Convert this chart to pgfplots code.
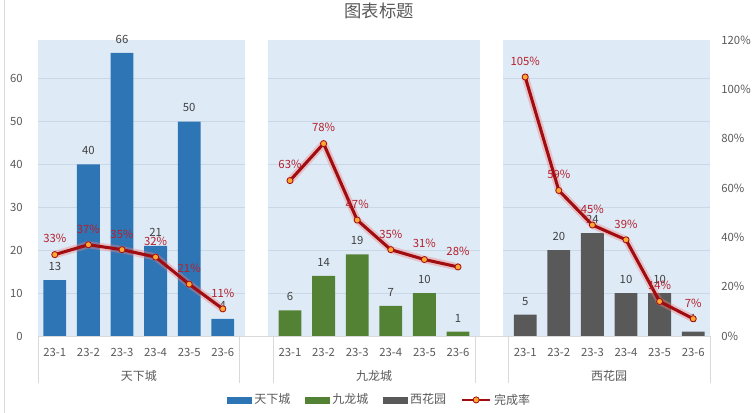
\documentclass[border=0pt]{standalone}
\usepackage{fontspec}
\setmainfont{Noto Sans CJK SC}
\usepackage{pgfplots}
\pgfplotsset{compat=1.18}
\pgfkeys{/pgf/number format/assume math mode=true}
\definecolor{cA}{HTML}{2E75B6}
\definecolor{cB}{HTML}{548235}
\definecolor{cC}{HTML}{595959}
\definecolor{panel}{HTML}{DEEBF7}
\definecolor{gridc}{HTML}{C9D7E6}
\definecolor{lineR}{HTML}{A00C10}
\definecolor{glow}{HTML}{F08080}
\definecolor{mk}{HTML}{FFA733}
\definecolor{lblR}{HTML}{B3202C}
\definecolor{txt}{HTML}{595959}
\definecolor{lbl}{HTML}{404040}
\definecolor{axg}{HTML}{D9D9D9}
\pgfplotsset{
  gl/.style={gridc, line width=0.6pt, forget plot, unbounded coords=jump},
}
\begin{document}
\begin{tikzpicture}
\path[use as bounding box] (-28.5pt,-57.75pt) rectangle (537pt,252pt);
\draw[axg] (-25.5pt,-57.75pt) -- (-25.5pt,252pt);
\node[font=\fontsize{13}{15}\selectfont, text=txt] at (255.75pt,243.75pt) {图表标题};
\begin{axis}[at={(0,0)}, anchor=south west, scale only axis, width=504pt, height=222pt,
  xmin=-0.5, xmax=19.5, ymin=0, ymax=69, clip=false,
  /pgf/number format/assume math mode=true,
  axis x line*=bottom, axis y line*=left,
  x axis line style={draw=axg,-}, y axis line style={draw=none},
  major tick length=0pt,
  xtick={0,1,2,3,4,5,7,8,9,10,11,12,14,15,16,17,18,19},
  xticklabels={23-1,23-2,23-3,23-4,23-5,23-6,23-1,23-2,23-3,23-4,23-5,23-6,23-1,23-2,23-3,23-4,23-5,23-6},
  ytick={0,10,...,60},
  tick label style={font=\fontsize{8.5}{10}\selectfont, text=txt},
  xticklabel style={anchor=center, yshift=-12pt},
  yticklabel style={anchor=east, xshift=-8pt},
  every node near coord/.append style={font=\fontsize{8.5}{10}\selectfont, text=lbl, anchor=south, yshift=3.5pt},
]
% background panels
\addplot[fill=panel, draw=none, forget plot] coordinates {(-0.5,0) (-0.5,69) (5.65,69) (5.65,0)} -- cycle;
\addplot[fill=panel, draw=none, forget plot] coordinates {(6.34,0) (6.34,69) (12.66,69) (12.66,0)} -- cycle;
\addplot[fill=panel, draw=none, forget plot] coordinates {(13.34,0) (13.34,69) (19.5,69) (19.5,0)} -- cycle;
% grid lines on panels
\addplot[gl] coordinates {(-0.5,10)(5.65,10)(6,nan)(6.34,10)(12.66,10)(13,nan)(13.34,10)(19.5,10)};
\addplot[gl] coordinates {(-0.5,20)(5.65,20)(6,nan)(6.34,20)(12.66,20)(13,nan)(13.34,20)(19.5,20)};
\addplot[gl] coordinates {(-0.5,30)(5.65,30)(6,nan)(6.34,30)(12.66,30)(13,nan)(13.34,30)(19.5,30)};
\addplot[gl] coordinates {(-0.5,40)(5.65,40)(6,nan)(6.34,40)(12.66,40)(13,nan)(13.34,40)(19.5,40)};
\addplot[gl] coordinates {(-0.5,50)(5.65,50)(6,nan)(6.34,50)(12.66,50)(13,nan)(13.34,50)(19.5,50)};
\addplot[gl] coordinates {(-0.5,60)(5.65,60)(6,nan)(6.34,60)(12.66,60)(13,nan)(13.34,60)(19.5,60)};
% bars
\addplot[ybar, bar width=0.68, bar shift=0pt, fill=cA, draw=none, nodes near coords] coordinates {(0,13)(1,40)(2,66)(3,21)(4,50)(5,4)};
\addplot[ybar, bar width=0.68, bar shift=0pt, fill=cB, draw=none, nodes near coords] coordinates {(7,6)(8,14)(9,19)(10,7)(11,10)(12,1)};
\addplot[ybar, bar width=0.68, bar shift=0pt, fill=cC, draw=none, nodes near coords] coordinates {(14,5)(15,20)(16,24)(17,10)(18,10)(19,1)};
% category separators and group labels
\pgfplotsinvokeforeach{-0.5,5.5,6.5,12.5,13.5,19.5}{
  \draw[axg] (axis cs:#1,0) -- ++(0pt,-35.25pt);
}
\node[font=\fontsize{9}{10}\selectfont, text=txt] at ([yshift=-30pt]axis cs:2.5,0) {天下城};
\node[font=\fontsize{9}{10}\selectfont, text=txt] at ([yshift=-30pt]axis cs:9.5,0) {九龙城};
\node[font=\fontsize{9}{10}\selectfont, text=txt] at ([yshift=-30pt]axis cs:16.5,0) {西花园};
\end{axis}
\begin{axis}[at={(0,0)}, anchor=south west, scale only axis, width=504pt, height=222pt,
  xmin=-0.5, xmax=19.5, ymin=0, ymax=120, clip=false,
  /pgf/number format/assume math mode=true,
  axis x line=none, axis y line*=right, y axis line style={draw=none},
  major tick length=0pt,
  ytick={0,20,...,120},
  yticklabel={\pgfmathprintnumber{\tick}\%},
  tick label style={font=\fontsize{8.5}{10}\selectfont, text=txt},
  yticklabel style={anchor=west, xshift=5pt},
  unbounded coords=jump,
  legend columns=4,
  legend style={at={(0.509,-0.216)}, anchor=center, draw=none, fill=none,
    font=\fontsize{9}{10}\selectfont, text=txt,
    /tikz/every even column/.append style={column sep=9pt}},
  legend cell align=left,
]
\addlegendimage{legend image code/.code={\fill[cA] (0pt,-2.25pt) rectangle (18pt,2.25pt);}}
\addlegendentry{天下城}
\addlegendimage{legend image code/.code={\fill[cB] (0pt,-2.25pt) rectangle (18pt,2.25pt);}}
\addlegendentry{九龙城}
\addlegendimage{legend image code/.code={\fill[cC] (0pt,-2.25pt) rectangle (18pt,2.25pt);}}
\addlegendentry{西花园}
\addplot[forget plot, draw=glow, opacity=0.4, line width=5.5pt, line join=round, line cap=round]
  coordinates {(0,33)(1,37)(2,35)(3,32)(4,21)(5,11)(6,nan)(7,63)(8,78)(9,47)(10,35)(11,31)(12,28)(13,nan)(14,105)(15,59)(16,45)(17,39)(18,14)(19,7)};
\addplot[draw=lineR, line width=2.3pt, line join=round,
  mark=*, mark size=2.3pt, mark options={fill=mk, draw=lineR, line width=0.6pt},
  nodes near coords={\pgfmathprintnumber{\pgfplotspointmeta}\%},
  every node near coord/.append style={font=\fontsize{8.5}{10}\selectfont, text=lblR, anchor=south, yshift=5pt},
  legend image code/.code={\draw[lineR, line width=2pt] (0pt,0pt) -- (21pt,0pt); \fill[mk, draw=lineR, line width=0.6pt] (10.5pt,0pt) circle (2.3pt);}]
  coordinates {(0,33)(1,37)(2,35)(3,32)(4,21)(5,11)(6,nan)(7,63)(8,78)(9,47)(10,35)(11,31)(12,28)(13,nan)(14,105)(15,59)(16,45)(17,39)(18,14)(19,7)};
\addlegendentry{完成率}
\end{axis}
\end{tikzpicture}
\end{document}
